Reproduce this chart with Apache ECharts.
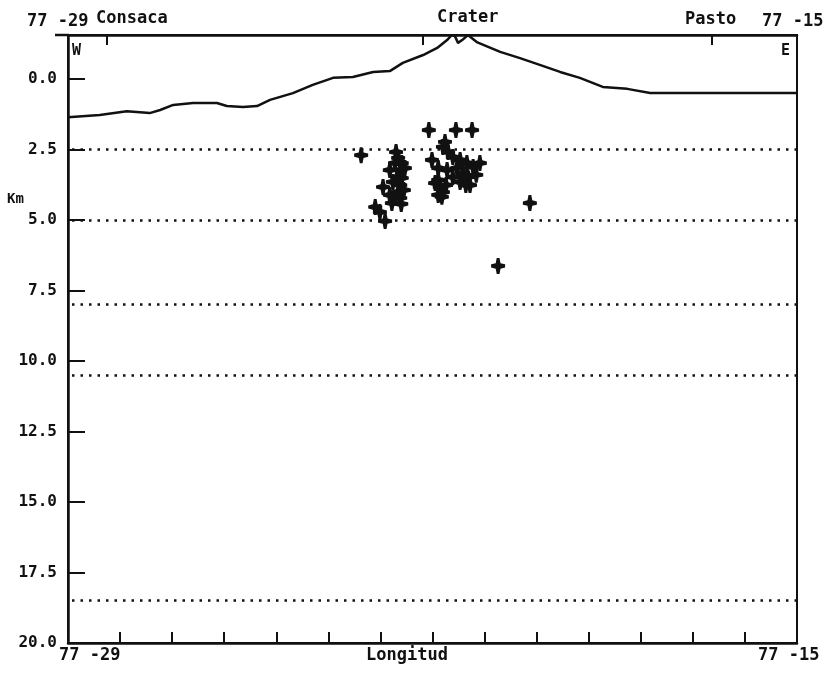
<!DOCTYPE html>
<html>
<head>
<meta charset="utf-8">
<script src="https://cdn.jsdelivr.net/npm/echarts@6/dist/echarts.min.js"></script>
<style>
  html, body { margin: 0; padding: 0; background: #ffffff; }
  #chart { width: 825px; height: 676px; }
</style>
</head>
<body>
<div id="chart"></div>
<script>
// Longitude is given in arc-minutes west of 77°, depth in km (negative = above datum).

// Topographic profile along the W-E section
const topoLon   = [29.00, 28.39, 27.87, 27.43, 27.23, 26.98, 26.60, 26.14, 25.95, 25.64, 25.37, 25.12, 24.68, 24.30, 23.91, 23.53, 23.14, 22.82, 22.57, 22.18, 21.91, 21.72, 21.63, 21.57, 21.51, 21.43, 21.32, 21.15, 20.70, 20.32, 19.94, 19.55, 19.17, 18.73, 18.26, 17.82, 15.00];
const topoDepth = [1.36, 1.28, 1.14, 1.21, 1.10, 0.92, 0.85, 0.85, 0.96, 0.99, 0.96, 0.74, 0.50, 0.21, -0.04, -0.07, -0.25, -0.28, -0.57, -0.85, -1.10, -1.38, -1.56, -1.52, -1.28, -1.38, -1.56, -1.31, -0.96, -0.74, -0.50, -0.25, -0.04, 0.28, 0.35, 0.50, 0.50];

// Hypocentres
const quakeLon   = [23.37, 22.07, 21.55, 21.24, 20.13, 20.74, 23.10, 23.01, 22.91, 22.95,
                    22.66, 22.72, 22.59, 22.82, 22.62, 22.53, 22.68, 22.59, 22.76, 22.62, 22.66, 22.62, 22.78, 22.60, 22.72, 22.70, 22.55, 22.82,
                    21.76, 21.80, 21.70, 22.01, 21.61, 21.47, 21.34, 21.22, 21.09, 21.89, 21.72, 21.53, 21.41, 21.89, 21.86, 21.89, 21.80, 21.61, 21.47, 21.28, 21.32,
                    21.95, 21.82, 21.74, 21.16, 21.36];
const quakeDepth = [2.70, 1.81, 1.81, 1.81, 4.40, 6.63, 4.54, 4.72, 5.04, 3.83,
                    2.80, 2.98, 2.98, 3.23, 3.23, 3.16, 3.48, 3.51, 3.65, 3.76, 4.01, 4.22, 4.40, 4.43, 4.22, 2.59, 3.94, 4.11,
                    2.23, 2.41, 2.59, 2.87, 2.77, 2.87, 2.98, 3.12, 2.98, 3.16, 3.23, 3.16, 3.33, 3.58, 3.83, 4.11, 4.01, 3.48, 3.65, 3.76, 3.48,
                    3.69, 4.18, 3.76, 3.40, 3.76];

// Velocity-model layer boundaries (km)
const layerDepths = [2.5, 5.0, 8.0, 10.5, 18.5];

// Axis ticks
const depthTicks = [0, 2.5, 5, 7.5, 10, 12.5, 15, 17.5, 20];
const placeNames = ['Consaca', 'Crater', 'Pasto'];
const placeLon = [28.25, 22.18, 16.63];

const FONT = 'DejaVu Sans Mono';
const INK = '#111111';

const topoData = topoLon.map((v, i) => [v, topoDepth[i]]);
const quakeData = quakeLon.map((v, i) => [v, quakeDepth[i]]);

const plusPath = 'path://M-1.4,-7 L1.4,-7 L2.4,-2.4 L7,-1.4 L7,1.4 L2.4,2.4 L1.4,7 L-1.4,7 L-2.4,2.4 L-7,1.4 L-7,-1.4 L-2.4,-2.4 Z';

function txt(x, y, s, size, align) {
  return {
    type: 'text', left: x, top: y,
    style: { text: s, font: 'bold ' + size + 'px "' + FONT + '"', fill: INK, textAlign: align || 'left' }
  };
}

const chart = echarts.init(document.getElementById('chart'));
chart.setOption({
  animation: false,
  backgroundColor: '#ffffff',
  grid: { left: 68, right: 28, top: 35, bottom: 33, show: true, borderColor: INK, borderWidth: 2, backgroundColor: 'transparent' },
  xAxis: [
    {
      type: 'value', min: 15, max: 29, interval: 1, inverse: true, position: 'bottom',
      axisLine: { show: true, onZero: false, lineStyle: { color: INK, width: 2.5 } },
      axisTick: { show: true, inside: true, length: 11, lineStyle: { color: INK, width: 2 } },
      axisLabel: { show: false },
      splitLine: { show: false }
    },
    {
      type: 'value', min: 15, max: 29, inverse: true, position: 'top',
      axisLine: { show: true, onZero: false, lineStyle: { color: INK, width: 2.5 } },
      axisTick: { show: true, inside: true, length: 10, customValues: placeLon, lineStyle: { color: INK, width: 2 } },
      axisLabel: { show: false },
      splitLine: { show: false }
    }
  ],
  yAxis: {
    type: 'value', min: -1.56, max: 20, inverse: true,
    axisLine: { show: true, onZero: false, lineStyle: { color: INK, width: 2.5 } },
    axisTick: { show: true, inside: true, length: 17, customValues: depthTicks.slice(0, -1), lineStyle: { color: INK, width: 2 } },
    axisLabel: {
      show: true, customValues: depthTicks, margin: 11,
      formatter: v => Number(v).toFixed(1),
      fontFamily: FONT, fontWeight: 'bold', fontSize: 16, color: INK
    },
    splitLine: { show: false }
  },
  graphic: [
    { type: 'line', shape: { x1: 55, y1: 35, x2: 68, y2: 35 }, style: { stroke: INK, lineWidth: 2.5 } },
    txt(27, 13, '77 -29', 17),
    txt(96, 10, placeNames[0], 17),
    txt(437, 9, placeNames[1], 17),
    txt(685, 11, placeNames[2], 17),
    txt(762, 13, '77 -15', 17),
    txt(72, 44, 'W', 15),
    txt(781, 44, 'E', 15),
    txt(7, 192, 'Km', 14),
    txt(59, 647, '77 -29', 17),
    txt(366, 647, 'Longitud', 17),
    txt(758, 647, '77 -15', 17)
  ],
  series: [
    {
      type: 'line', data: topoData, showSymbol: false, symbol: 'none',
      lineStyle: { color: INK, width: 2.5 }, z: 3,
      markLine: {
        silent: true, symbol: 'none', label: { show: false },
        lineStyle: { color: INK, width: 2.5, type: [2.5, 6] },
        data: layerDepths.map(d => ({ yAxis: d }))
      }
    },
    {
      type: 'scatter', data: quakeData, symbol: plusPath, symbolSize: [14, 16],
      itemStyle: { color: INK, opacity: 1 }, z: 4
    }
  ]
});
</script>
</body>
</html>
